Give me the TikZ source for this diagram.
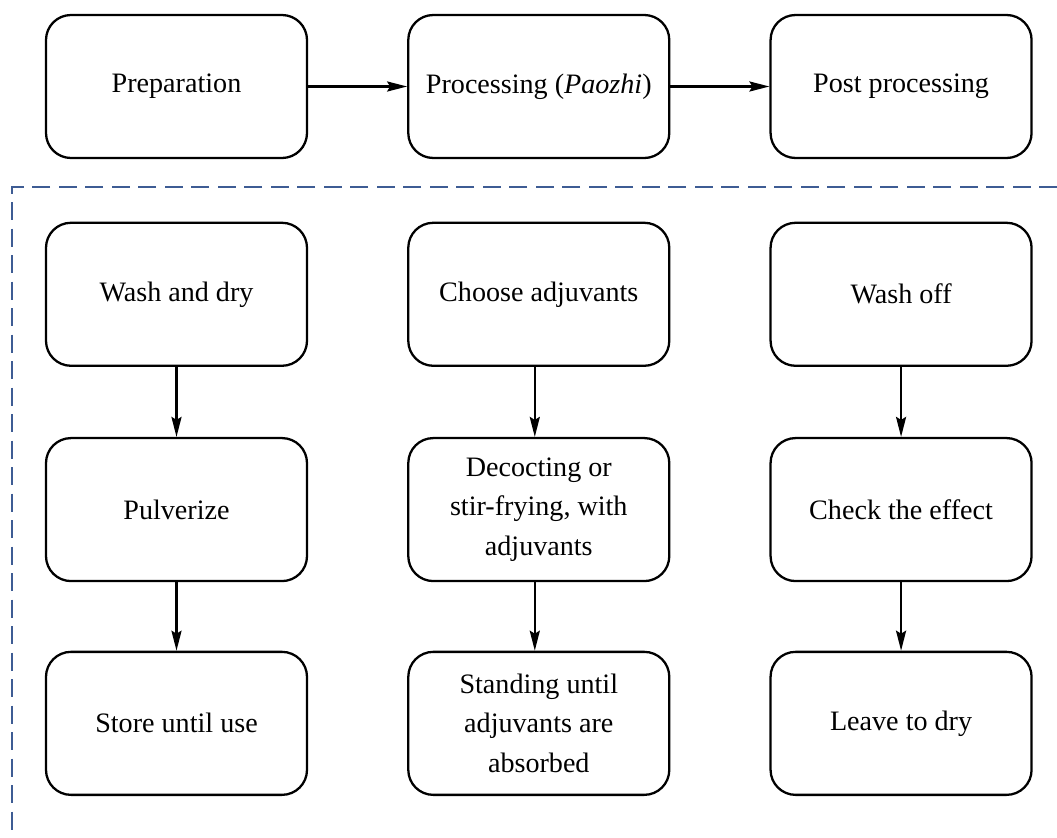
\documentclass[tikz,border=0pt]{standalone}
\usepackage{fontspec}
\setmainfont{Liberation Serif}
\usepackage{xcolor}
\usepackage{tikz}
\usetikzlibrary{arrows.meta,positioning}
\definecolor{dashblue}{RGB}{62,92,148}

\tikzset{
  stagebox/.style={draw, line width=1.3pt, rounded corners=0.5cm,
    minimum width=5.22cm, minimum height=2.86cm, align=center,
    font=\fontsize{16}{22.5}\selectfont},
  flow/.style={-{Stealth[length=4mm,width=2mm,inset=0.6mm]}, line width=1.4pt}
}

\begin{document}
\begin{tikzpicture}
  \useasboundingbox (0,0) rectangle (21.14,-16.74);

  % Main stages
  \node[stagebox] (prep) at (3.53,-1.73) {Preparation};
  \node[stagebox, right=1.98cm of prep] (proc) {Processing (\textit{Paozhi})};
  \node[stagebox, right=1.98cm of proc] (post) {Post processing};

  \draw[flow] (prep) -- (proc);
  \draw[flow] (proc) -- (post);

  % Dashed frame of the details
  \draw[dashblue, line width=1.3pt, dash pattern=on 0.36cm off 0.17cm]
    (21.14,-3.74) -- (0.24,-3.74) -- (0.24,-16.74);

  % Preparation steps
  \node[stagebox, below=1.25cm of prep] (wash) {Wash and dry};
  \node[stagebox, below=1.4cm of wash] (pulv) {Pulverize};
  \node[stagebox, below=1.37cm of pulv] (store) {Store until use};

  % Processing steps
  \node[stagebox, below=1.25cm of proc] (choose) {Choose adjuvants};
  \node[stagebox, below=1.4cm of choose] (decoct) {Decocting or\\stir-frying, with\\adjuvants};
  \node[stagebox, below=1.37cm of decoct] (stand) {Standing until\\adjuvants are\\absorbed};

  % Post processing steps
  \node[stagebox, below=1.25cm of post] (washoff) {Wash off};
  \node[stagebox, below=1.4cm of washoff] (check) {Check the effect};
  \node[stagebox, below=1.37cm of check] (leave) {Leave to dry};

  \draw[flow] (wash) -- (pulv);
  \draw[flow] (pulv) -- (store);
  \draw[flow] ([xshift=-0.08cm]choose.south) -- ([xshift=-0.08cm]decoct.north);
  \draw[flow] ([xshift=-0.08cm]decoct.south) -- ([xshift=-0.08cm]stand.north);
  \draw[flow] (washoff) -- (check);
  \draw[flow] (check) -- (leave);
\end{tikzpicture}
\end{document}
